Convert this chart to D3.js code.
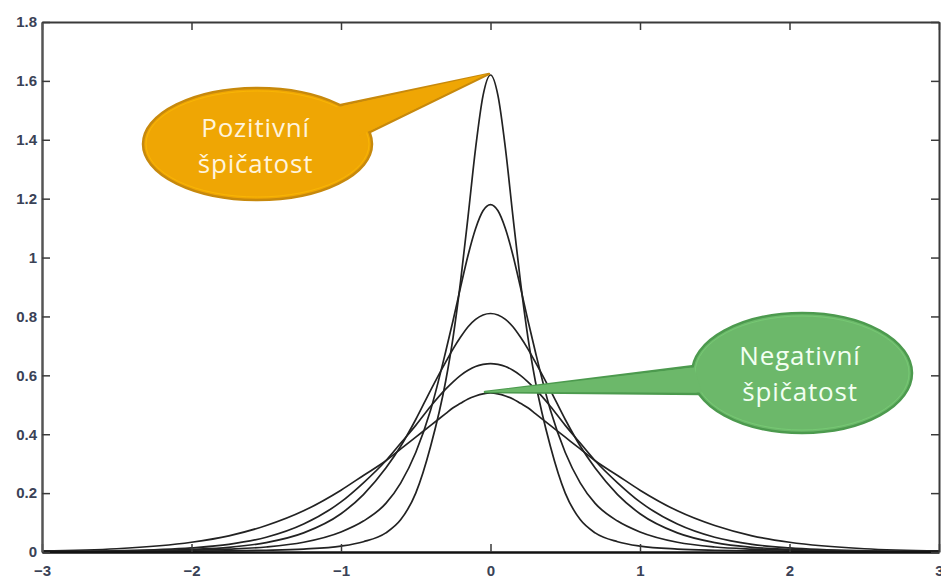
<!DOCTYPE html>
<html><head><meta charset="utf-8">
<script src="https://cdn.jsdelivr.net/npm/d3@7"></script>
<style>
html,body{margin:0;padding:0;background:#fff;overflow:hidden;}
svg{display:block;}
</style></head>
<body>
<svg id="chart" width="941" height="578"></svg>
<script>
// ---- data ----
const xGrid = [-3,-2.5,-2,-1.75,-1.5,-1.25,-1,-0.85,-0.7,-0.6,-0.5,-0.4,-0.3,-0.25,-0.2,-0.15,-0.1,-0.05,0,
               0.05,0.1,0.15,0.2,0.25,0.3,0.4,0.5,0.6,0.7,0.85,1,1.25,1.5,1.75,2,2.5,3];
const curve1 = [0.0005,0.001,0.003,0.004,0.006,0.01,0.02,0.035,0.065,0.11,0.2,0.36,0.58,0.73,0.92,1.14,1.37,1.55,1.62,
                1.55,1.37,1.14,0.92,0.73,0.58,0.36,0.2,0.11,0.065,0.035,0.02,0.01,0.006,0.004,0.003,0.001,0.0005];
const curve2 = [0.001,0.002,0.006,0.01,0.017,0.033,0.068,0.105,0.165,0.235,0.338,0.483,0.68,0.787,0.90,1.008,1.098,1.159,1.18,
                1.159,1.098,1.008,0.90,0.787,0.68,0.483,0.338,0.235,0.165,0.105,0.068,0.033,0.017,0.01,0.006,0.002,0.001];
const curve3 = [0.001,0.003,0.009,0.016,0.032,0.065,0.13,0.195,0.285,0.36,0.45,0.55,0.645,0.69,0.73,0.765,0.79,0.805,0.81,
                0.805,0.79,0.765,0.73,0.69,0.645,0.55,0.45,0.36,0.285,0.195,0.13,0.065,0.032,0.016,0.009,0.003,0.001];
const curve4 = [0.001,0.004,0.014,0.026,0.05,0.095,0.17,0.235,0.31,0.37,0.43,0.495,0.553,0.578,0.60,0.617,0.63,0.637,0.64,
                0.637,0.63,0.617,0.60,0.578,0.553,0.495,0.43,0.37,0.31,0.235,0.17,0.095,0.05,0.026,0.014,0.004,0.001];
const curve5 = [0.004,0.011,0.033,0.055,0.09,0.14,0.21,0.26,0.31,0.35,0.39,0.43,0.47,0.49,0.505,0.52,0.53,0.537,0.54,
                0.537,0.53,0.52,0.505,0.49,0.47,0.43,0.39,0.35,0.31,0.26,0.21,0.14,0.09,0.055,0.033,0.011,0.004];
const seriesList = [curve1, curve2, curve3, curve4, curve5];
const xTicks = [-3,-2,-1,0,1,2,3];
const xTickLabels = ["\u22123","\u22122","\u22121","0","1","2","3"];
const yTicks = [0,0.2,0.4,0.6,0.8,1,1.2,1.4,1.6,1.8];
const yTickLabels = ["0","0.2","0.4","0.6","0.8","1","1.2","1.4","1.6","1.8"];
const calloutPos = {text:["Pozitivn\u00ed","\u0161pi\u010datost"]};
const calloutNeg = {text:["Negativn\u00ed","\u0161pi\u010datost"]};

// ---- layout ----
const L = 42, R = 939, T = 22, B = 552;
const svg = d3.select("#chart");
const x = d3.scaleLinear().domain([-3,3]).range([L,R]);
const y = d3.scaleLinear().domain([0,1.8]).range([B,T]);

// curves
const line = d3.line().x((d,i)=>x(xGrid[i])).y(d=>y(d)).curve(d3.curveMonotoneX);
svg.append("g").selectAll("path").data(seriesList).join("path")
  .attr("d", d=>line(d)).attr("fill","none").attr("stroke","#222").attr("stroke-width",1.7);

// axes (box with inward ticks, MATLAB style)
const axCol = "#3a3a3a";
const gB = svg.append("g").attr("transform",`translate(0,${B})`)
  .call(d3.axisBottom(x).tickValues(xTicks).tickFormat((d,i)=>xTickLabels[i]).tickSizeInner(-8).tickSizeOuter(0).tickPadding(13));
const gT = svg.append("g").attr("transform",`translate(0,${T})`)
  .call(d3.axisTop(x).tickValues(xTicks).tickFormat("").tickSizeInner(-8).tickSizeOuter(0));
const gL = svg.append("g").attr("transform",`translate(${L},0)`)
  .call(d3.axisLeft(y).tickValues(yTicks).tickFormat((d,i)=>yTickLabels[i]).tickSizeInner(-8).tickSizeOuter(0).tickPadding(5));
const gR = svg.append("g").attr("transform",`translate(${R},0)`)
  .call(d3.axisRight(y).tickValues(yTicks).tickFormat("").tickSizeInner(-8).tickSizeOuter(0));
[gB,gT,gL,gR].forEach(g=>{
  g.select(".domain").attr("stroke",axCol).attr("stroke-width",2);
  g.selectAll(".tick line").attr("stroke",axCol).attr("stroke-width",1.5);
  g.selectAll("text").attr("fill","#3a4256").style("font-family","'Liberation Sans',Arial,sans-serif")
    .style("font-size","15px").style("font-weight","bold");
});
gL.select(".domain").attr("stroke","#555").attr("stroke-width",2.5);
gB.select(".domain").attr("stroke","#111").attr("stroke-width",2.5);

// callouts
function callout(cx,cy,rx,ry,tail,fill,stroke,textCol,lines,ty){
  const g = svg.append("g");
  g.append("path").attr("d",d3.line()(tail)+"Z").attr("fill",fill).attr("stroke",stroke).attr("stroke-width",2.5).attr("stroke-linejoin","round");
  g.append("ellipse").attr("cx",cx).attr("cy",cy).attr("rx",rx).attr("ry",ry).attr("fill",fill).attr("stroke",stroke).attr("stroke-width",2.5);
  g.append("ellipse").attr("cx",cx).attr("cy",cy).attr("rx",rx-3).attr("ry",ry-3).attr("fill","none").attr("stroke",d3.color(fill).brighter(0.4)).attr("stroke-width",1).attr("opacity",0.6);
  g.append("path").attr("d",d3.line()([[tail[0][0],tail[0][1]+1.5],[tail[1][0]-2,tail[1][1]],[tail[2][0],tail[2][1]-1.5]])+"Z").attr("fill",fill);
  g.selectAll("text").data(lines).join("text")
    .attr("x",cx-2).attr("y",(d,i)=>ty+i*36).attr("text-anchor","middle")
    .attr("fill",textCol).style("font-family","'Open Sans','Noto Sans',sans-serif").style("font-size","26px")
    .style("letter-spacing","0.8px")
    .text(d=>d);
}
callout(257.5,144,114.5,56,[[336,106],[489,74],[360,137]],"#EFA604","#C7890C","#FFF4DC",calloutPos.text,137);
callout(802,373,110,60,[[694,366],[485,392],[702,394]],"#6CB86A","#4C9A4E","#F2FFF2",calloutNeg.text,365);
</script>
</body></html>
